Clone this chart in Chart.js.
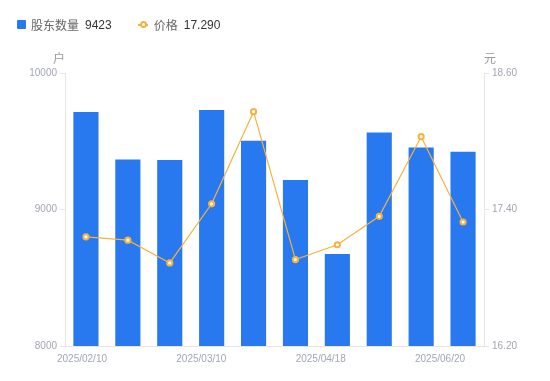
<!DOCTYPE html>
<html lang="zh">
<head>
    <meta charset="UTF-8">
    <title>股东数量与价格</title>
    <script src="https://cdn.jsdelivr.net/npm/chart.js"></script>
    <style>
        body { margin: 0; background: #fff; font-family: Arial, "Liberation Sans", "Noto Sans CJK SC", sans-serif; }
        #wrap { position: relative; width: 550px; height: 381px; }
        .legend { position: absolute; top: 16px; left: 17px; font-size: 12px; color: #666; display: flex; align-items: center; }
        .legend .val { color: #333; margin-left: 6px; }
        .legend .item { display: flex; align-items: center; margin-right: 26px; }
        .box { width: 9px; height: 9px; background: #2878f0; border-radius: 1px; margin-right: 5px; }
        .lineicon { position: relative; width: 10px; height: 9px; margin-right: 6px; }
        .lineicon::before { content: ""; position: absolute; left: 0; right: 0; top: 4px; height: 1.5px; background: #f7b23b; }
        .lineicon::after { content: ""; position: absolute; left: 2px; top: 1px; width: 3px; height: 3px; border: 2px solid #f7b23b; border-radius: 50%; background: #fff; }
        .unit { position: absolute; top: 49px; font-size: 12px; color: #999; }
    </style>
</head>
<body>
<div id="wrap">
    <canvas id="chart"></canvas>
    <div class="legend">
        <div class="item"><span class="box"></span>股东数量<span class="val">9423</span></div>
        <div class="item"><span class="lineicon"></span>价格<span class="val">17.290</span></div>
    </div>
    <span class="unit" style="left:53px">户</span>
    <span class="unit" style="left:484px">元</span>
</div>
<script>
    // 数据
    const dates = ['2025/02/10', '2025/02/20', '2025/02/28', '2025/03/10', '2025/03/20',
                   '2025/03/31', '2025/04/18', '2025/04/30', '2025/05/30', '2025/06/20'];
    const holders = [9714, 9366, 9362, 9729, 9504, 9216, 8674, 9565, 9455, 9423];
    const prices = [17.16, 17.13, 16.93, 17.45, 18.26, 16.96, 17.09, 17.34, 18.04, 17.29];
    const leftTicks = [8000, 9000, 10000];
    const rightTicks = [16.20, 17.40, 18.60];
    const shownDates = [0, 3, 6, 9]; // 显示的日期下标

    const axisColor = '#e6e6e6';
    const tickColor = '#a3a6b4';
    const tickFont = { size: 10, family: 'Arial, "Liberation Sans", sans-serif' };

    new Chart(document.getElementById('chart'), {
        type: 'bar',
        data: {
            labels: dates,
            datasets: [
                {
                    type: 'line',
                    label: '价格',
                    data: prices,
                    yAxisID: 'y1',
                    borderColor: '#f7b23b',
                    borderWidth: 1.2,
                    backgroundColor: '#fff',
                    pointRadius: 2.6,
                    pointBorderWidth: 2,
                    pointBackgroundColor: '#fff',
                    pointBorderColor: '#f7b23b',
                    tension: 0
                },
                {
                    label: '股东数量',
                    data: holders,
                    yAxisID: 'y',
                    backgroundColor: '#2878f0',
                    barPercentage: 0.6,
                    categoryPercentage: 1
                }
            ]
        },
        options: {
            responsive: true,
            maintainAspectRatio: false,
            animation: false,
            layout: { padding: { top: 73 } },
            plugins: { legend: { display: false }, tooltip: { enabled: false } },
            scales: {
                x: {
                    weight: 0,
                    grid: { display: false },
                    border: { display: true, color: axisColor },
                    ticks: { display: false },
                    afterFit: s => { s.height = 0; }
                },
                x2: {
                    type: 'linear',
                    position: 'bottom',
                    weight: 1,
                    offset: false,
                    min: -0.1424,
                    max: 3.3685,
                    grid: { display: false, offset: false },
                    border: { display: false },
                    afterBuildTicks: s => { s.ticks = shownDates.map((d, i) => ({ value: i })); },
                    ticks: {
                        color: tickColor,
                        font: tickFont,
                        padding: -1,
                        maxRotation: 0,
                        autoSkip: false,
                        callback: v => dates[shownDates[v]]
                    },
                    afterFit: s => { s.height = 35; }
                },
                y: {
                    position: 'left',
                    min: 8000,
                    max: 10000,
                    afterBuildTicks: s => { s.ticks = leftTicks.map(v => ({ value: v })); },
                    grid: { drawOnChartArea: false, drawTicks: true, tickLength: 5, color: axisColor },
                    border: { display: true, color: axisColor },
                    ticks: { color: tickColor, font: tickFont, padding: 3, callback: v => String(v) },
                    afterFit: s => { s.width = 65; }
                },
                y1: {
                    position: 'right',
                    min: 16.2,
                    max: 18.6,
                    afterBuildTicks: s => { s.ticks = rightTicks.map(v => ({ value: v })); },
                    grid: { drawOnChartArea: false, drawTicks: true, tickLength: 5, color: axisColor },
                    border: { display: true, color: axisColor },
                    ticks: { color: tickColor, font: tickFont, padding: 3, callback: v => v.toFixed(2) },
                    afterFit: s => { s.width = 66; }
                }
            }
        }
    });
</script>
</body>
</html>
